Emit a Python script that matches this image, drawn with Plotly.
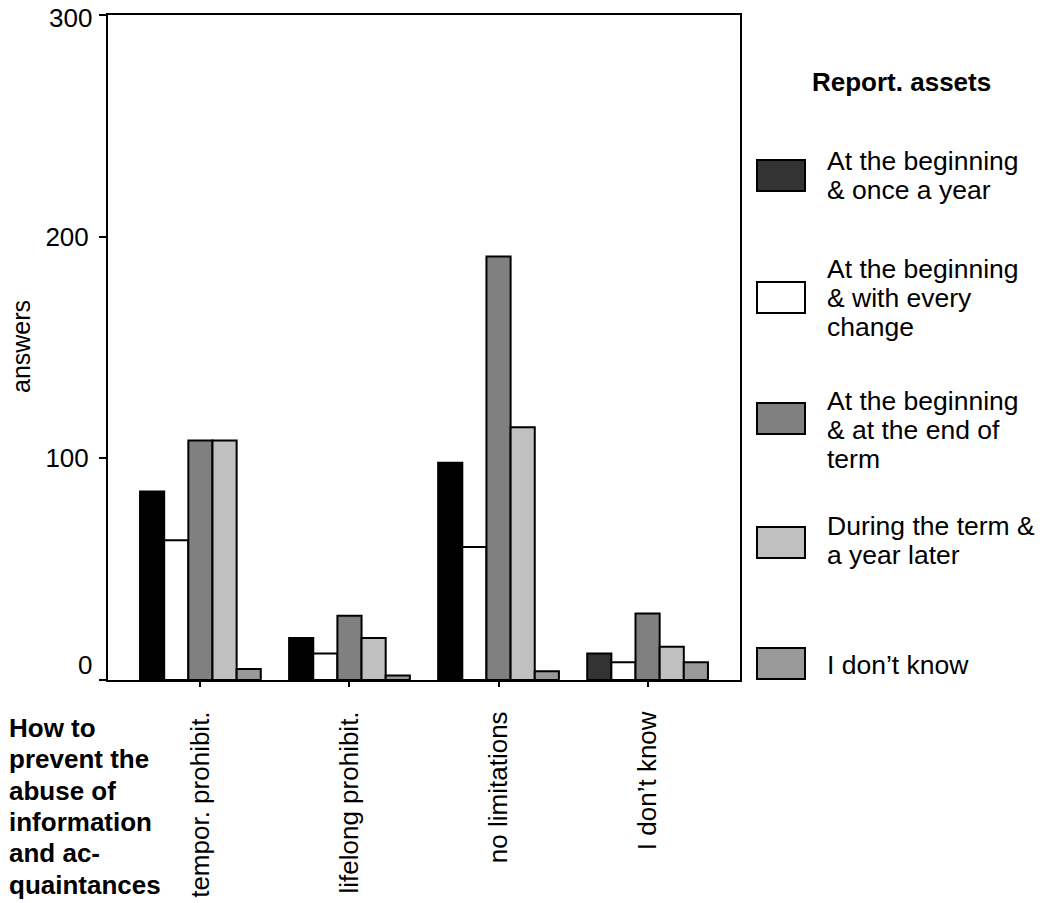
import plotly.graph_objects as go

# ---- data ----
categories = ["tempor. prohibit.", "lifelong prohibit.", "no limitations", "I don\u2019t know"]
series_names = [
    "At the beginning<br>& once a year",
    "At the beginning<br>& with every<br>change",
    "At the beginning<br>& at the end of<br>term",
    "During the term &<br>a year later",
    "I don\u2019t know",
]
once_a_year = [85, 19, 98, 12]
every_change = [63, 12, 60, 8]
end_of_term = [108, 29, 191, 30]
year_later = [108, 19, 114, 15]
dont_know = [5, 2, 4, 8]
values = [once_a_year, every_change, end_of_term, year_later, dont_know]

y_tickvals = [0, 100, 200, 300]
y_ticktext = ["", "100", "200", ""]
edge_labels = [(0, "0", 15), (300, "300", -3)]   # value, text, vertical nudge (px)

# ---- styles ----
bar_colors = [
    ["#000000", "#000000", "#000000", "#333333"],
    "#ffffff",
    "#808080",
    "#c0c0c0",
    "#999999",
]
legend_colors = ["#333333", "#ffffff", "#808080", "#c0c0c0", "#999999"]
FONT = "Liberation Sans, Arial, Helvetica, sans-serif"

# page has an 8px body margin; lay the figure out in screen pixels
OFF = 8
W, H = 1044 - OFF, 903 - OFF
PL, PT, PR, PB = 108, 15, 740, 680          # plot box in screen pixels
L, T = PL - OFF, PT - OFF
R, B = W - (PR - OFF), H - (PB - OFF)
PW, PH = PR - PL, PB - PT


def px(x):
    return (x - PL) / PW


def py(y):
    return (PB - y) / PH


fig = go.Figure()
for name, vals, col in zip(series_names, values, bar_colors):
    fig.add_trace(go.Bar(
        x=categories, y=vals, name=name,
        marker=dict(color=col, line=dict(color="#000000", width=2)),
        showlegend=False,
    ))

annotations = []
shapes = []

# y-axis title
annotations.append(dict(text="answers", xref="paper", yref="paper", x=px(21), y=py(346),
                        textangle=-90, showarrow=False, xanchor="center", yanchor="middle",
                        font=dict(size=25, color="#000", family=FONT)))
# end tick labels (nudged as in the reference)
for val, txt, nudge in edge_labels:
    annotations.append(dict(text=txt, xref="paper", yref="y", x=px(94), y=val, yshift=nudge,
                            showarrow=False, xanchor="right", yanchor="middle",
                            font=dict(size=26, color="#000", family=FONT)))
# x-axis title block
xtitle_lines = ["How to", "prevent the", "abuse of", "information", "and ac-", "quaintances"]
for i, line in enumerate(xtitle_lines):
    annotations.append(dict(text="<b>" + line + "</b>", xref="paper", yref="paper",
                            x=px(7), y=py(728 + i * 31.3), showarrow=False,
                            xanchor="left", yanchor="middle",
                            font=dict(size=26, color="#000", family=FONT)))
# legend title
annotations.append(dict(text="<b>Report. assets</b>", xref="paper", yref="paper",
                        x=px(901), y=py(82), showarrow=False, xanchor="center", yanchor="middle",
                        font=dict(size=26, color="#000", family=FONT)))
# legend entries
swatch_tops = [160, 282, 403, 527, 648]
line_centers = [[161, 190], [269, 298, 327], [401, 430, 459], [526, 555], [665]]
for name, col, top, centers in zip(series_names, legend_colors, swatch_tops, line_centers):
    shapes.append(dict(type="rect", xref="paper", yref="paper",
                       x0=px(757), x1=px(805), y0=py(top), y1=py(top + 31),
                       fillcolor=col, line=dict(color="#000", width=2)))
    for line, cy in zip(name.split("<br>"), centers):
        annotations.append(dict(text=line, xref="paper", yref="paper", x=px(825), y=py(cy),
                                showarrow=False, xanchor="left", yanchor="middle",
                                font=dict(size=26.5, color="#000", family=FONT)))

fig.update_layout(
    width=W, height=H,
    margin=dict(l=L, r=R, t=T, b=B, pad=0, autoexpand=False),
    paper_bgcolor="#ffffff", plot_bgcolor="#ffffff",
    barmode="group", bargap=0.19, bargroupgap=0,
    font=dict(family=FONT, size=26, color="#000"),
    showlegend=False,
    annotations=annotations, shapes=shapes,
)
fig.update_xaxes(
    type="category", range=[-0.62, 3.62], automargin=False,
    showline=True, linecolor="#000", linewidth=2, mirror=True,
    ticks="outside", ticklen=5, tickwidth=2, tickcolor="#000",
    tickangle=-90, ticklabelstandoff=14, ticklabeloverflow="allow",
    tickfont=dict(size=26, family=FONT, color="#000"),
    showgrid=False, zeroline=False,
)
fig.update_yaxes(
    range=[0, 300], tickvals=y_tickvals, ticktext=y_ticktext, automargin=False,
    showline=True, linecolor="#000", linewidth=2, mirror=True,
    ticks="outside", ticklen=7, tickwidth=2, tickcolor="#000",
    ticklabelstandoff=5, ticklabeloverflow="allow",
    tickfont=dict(size=26, family=FONT, color="#000"),
    showgrid=False, zeroline=False,
)

fig.write_html("out.html")
